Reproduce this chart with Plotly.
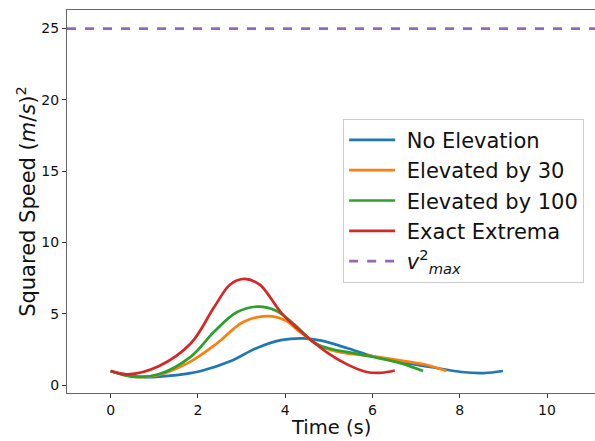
import plotly.graph_objects as go

# Data
t_blue = [0, 0.72, 1.47, 2.07, 2.74, 3.34, 3.93, 4.42, 4.83, 5.43, 6.02, 6.77, 7.44, 8.04, 8.56, 8.99]
v_blue = [0.99, 0.57, 0.69, 0.99, 1.67, 2.59, 3.17, 3.28, 3.12, 2.59, 2.02, 1.56, 1.22, 0.92, 0.85, 0.99]

t_orange = [0, 0.57, 1.1, 1.84, 2.44, 3.04, 3.6, 4.0, 4.38, 4.83, 5.28, 6.02, 6.77, 7.29, 7.7]
v_orange = [0.99, 0.57, 0.71, 1.67, 2.94, 4.43, 4.84, 4.54, 3.62, 2.71, 2.29, 2.02, 1.67, 1.38, 0.99]

t_green = [0, 0.5, 1.1, 1.84, 2.37, 2.89, 3.37, 3.78, 4.23, 4.68, 5.13, 5.57, 6.02, 6.62, 7.16]
v_green = [0.99, 0.6, 0.76, 2.0, 3.74, 5.11, 5.5, 5.23, 4.2, 2.94, 2.48, 2.25, 1.97, 1.56, 0.99]

t_red = [0, 0.39, 1.1, 1.84, 2.37, 2.74, 3.07, 3.41, 3.93, 4.46, 4.98, 5.43, 5.87, 6.21, 6.51]
v_red = [0.99, 0.76, 1.33, 2.94, 5.46, 7.06, 7.45, 7.06, 5.0, 3.5, 2.25, 1.44, 0.92, 0.87, 1.03]

v_max_sq = 25
x_range = [-1.0, 11.1]
y_range = [-0.55, 26.3]
x_title = "Time (s)"

series = [
    ("No Elevation", t_blue, v_blue, "#1f77b4"),
    ("Elevated by 30", t_orange, v_orange, "#ff7f0e"),
    ("Elevated by 100", t_green, v_green, "#2ca02c"),
    ("Exact Extrema", t_red, v_red, "#d62728"),
]

SP = "\u00a0"

fig = go.Figure()
for name, t, v, c in series:
    fig.add_trace(go.Scatter(x=t, y=v, mode="lines", name=SP + name,
                             line=dict(color=c, width=2.7, shape="spline", smoothing=1.0)))

fig.add_trace(go.Scatter(x=[x_range[0], x_range[1] + 1], y=[v_max_sq, v_max_sq], mode="lines",
                         name=SP + "<i>v</i><sup>2</sup><sub><i>max</i></sub>",
                         line=dict(color="#9467bd", width=2.7, dash="dash")))

axis_common = dict(showline=True, linecolor="#666", linewidth=1,
                   ticks="outside", ticklen=4, tickcolor="#333", showgrid=False,
                   zeroline=False, tickfont=dict(size=14, color="#111"))

fig.update_layout(
    width=595, height=441,
    margin=dict(l=67, r=0, t=10, b=48),
    paper_bgcolor="white", plot_bgcolor="white",
    font=dict(family="DejaVu Sans", color="#111"),
    xaxis=dict(range=x_range, tickvals=[0, 2, 4, 6, 8, 10], mirror=True, **axis_common),
    yaxis=dict(range=y_range, tickvals=[0, 5, 10, 15, 20, 25], mirror=False,
               title=dict(text="Squared Speed (<i>m</i>/<i>s</i>)<sup>2</sup>", font=dict(size=21), standoff=0),
               **axis_common),
    legend=dict(x=0.523, y=0.716, xanchor="left", yanchor="top",
                font=dict(size=21), bordercolor="#ccc", borderwidth=1,
                bgcolor="rgba(255,255,255,0.8)", itemwidth=46, tracegroupgap=0),
    showlegend=True,
)

fig.add_annotation(text=x_title, xref="paper", yref="paper", x=0.5, y=0,
                   xanchor="center", yanchor="bottom", yshift=-47, showarrow=False,
                   borderpad=0, font=dict(size=19.5, color="#111"))

fig.write_html("out.html")
